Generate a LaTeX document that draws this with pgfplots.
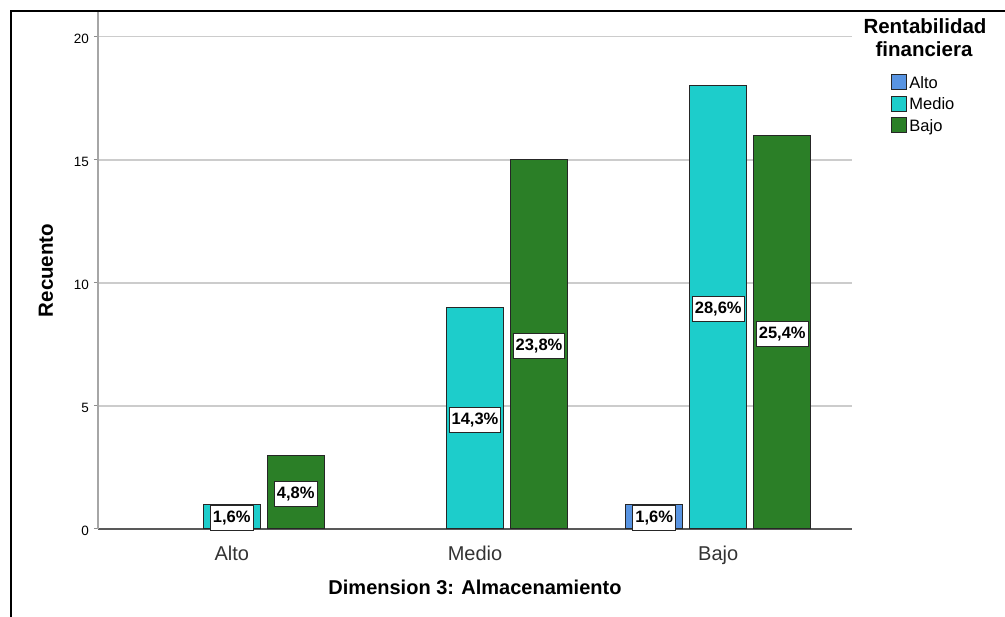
\documentclass[border=0pt]{standalone}
\usepackage{pgfplots}
\pgfplotsset{compat=1.18}
\usepackage{fontspec}
\setmainfont{Liberation Sans}
\definecolor{cAlto}{RGB}{88,148,226}
\definecolor{cMedio}{RGB}{29,205,203}
\definecolor{cBajo}{RGB}{43,127,39}
\pgfplotsset{sq legend/.style={legend image code/.code={\draw[##1, line width=1pt] (0pt,-7.5pt) rectangle (15pt,7.5pt);}}}
\begin{document}
\begin{tikzpicture}
\useasboundingbox (0,0) rectangle (1005pt,617pt);
\begin{axis}[
  at={(98pt,88pt)}, anchor=south west,
  scale only axis, width=754pt, height=517pt,
  xmin=-0.55, xmax=2.55, ymin=0, ymax=21,
  axis x line*=bottom, axis y line*=left,
  x axis line style={draw=black!65, line width=1.2pt, -},
  y axis line style={draw=black!35, line width=2pt, -},
  xtick={0,1,2}, xticklabels={Alto,Medio,Bajo},
  major x tick style={draw=none},
  ytick={0,5,10,15,20},
  /pgf/number format/assume math mode=true,
  ymajorgrids, grid style={draw=black!20, line width=1.6pt},
  major y tick style={draw=black!45, line width=1pt},
  tick align=outside, major tick length=4pt,
  xticklabel style={font=\fontsize{20}{24}\selectfont, text=black!80, anchor=base, yshift=-28pt, inner sep=0pt},
  yticklabel style={font=\fontsize{13.5}{16}\selectfont, anchor=east, inner sep=0pt, xshift=-5pt, yshift=-2pt},
  ylabel={Recuento}, xlabel={Dimension 3: Almacenamiento},
  every axis y label/.style={at={(axis description cs:-0.069,0.5)}, rotate=90, anchor=center, font=\bfseries\fontsize{20.5}{24}\selectfont},
  every axis x label/.style={at={(axis description cs:0.5,0)}, anchor=base, yshift=-66pt, font=\bfseries\fontsize{20}{24}\selectfont},
  legend style={at={(axis description cs:1.0517,0.8818)}, anchor=north west, draw=none, fill=none, inner sep=0pt, outer sep=0pt, row sep=2.7pt, font=\fontsize{16.5}{19}\selectfont, nodes={inner xsep=2.5pt, inner ysep=0pt, text height=15.3pt, text depth=3.5pt}},
  legend cell align=left,
  point meta=explicit symbolic,
  visualization depends on={y \as \rawy},
  nodes near coords,
  every node near coord/.append style={anchor=center, shift={(axis direction cs:0,-\rawy/2)}, yshift=-1.5pt, fill=white, draw=black!85, line width=1pt, font=\bfseries\fontsize{16.5}{19}\selectfont, inner xsep=2.5pt, inner ysep=4.5pt, text height=12.5pt, text depth=3.5pt},
  clip=false,
]
\addplot[ybar, bar width=57pt, bar shift=-64pt, fill=cAlto, draw=black!85, line width=1pt, sq legend, every node near coord/.append style={xshift=-64pt}] coordinates {(2,1) [1,6\%]};
\addplot[ybar, bar width=57pt, bar shift=0pt, fill=cMedio, draw=black!85, line width=1pt, sq legend] coordinates {(0,1) [1,6\%] (1,9) [14,3\%] (2,18) [28,6\%]};
\addplot[ybar, bar width=57pt, bar shift=64pt, fill=cBajo, draw=black!85, line width=1pt, sq legend, every node near coord/.append style={xshift=64pt}] coordinates {(0,3) [4,8\%] (1,15) [23,8\%] (2,16) [25,4\%]};
\legend{Alto,Medio,Bajo}
\end{axis}
\draw[line width=2pt, black] (11pt,0pt) -- (11pt,605.5pt) -- (1005pt,605.5pt);
\node[anchor=base, font=\bfseries\fontsize{20.5}{24}\selectfont] at (925pt,583pt) {Rentabilidad};
\node[anchor=base, font=\bfseries\fontsize{20.5}{24}\selectfont] at (924pt,560pt) {financiera};
\end{tikzpicture}
\end{document}
